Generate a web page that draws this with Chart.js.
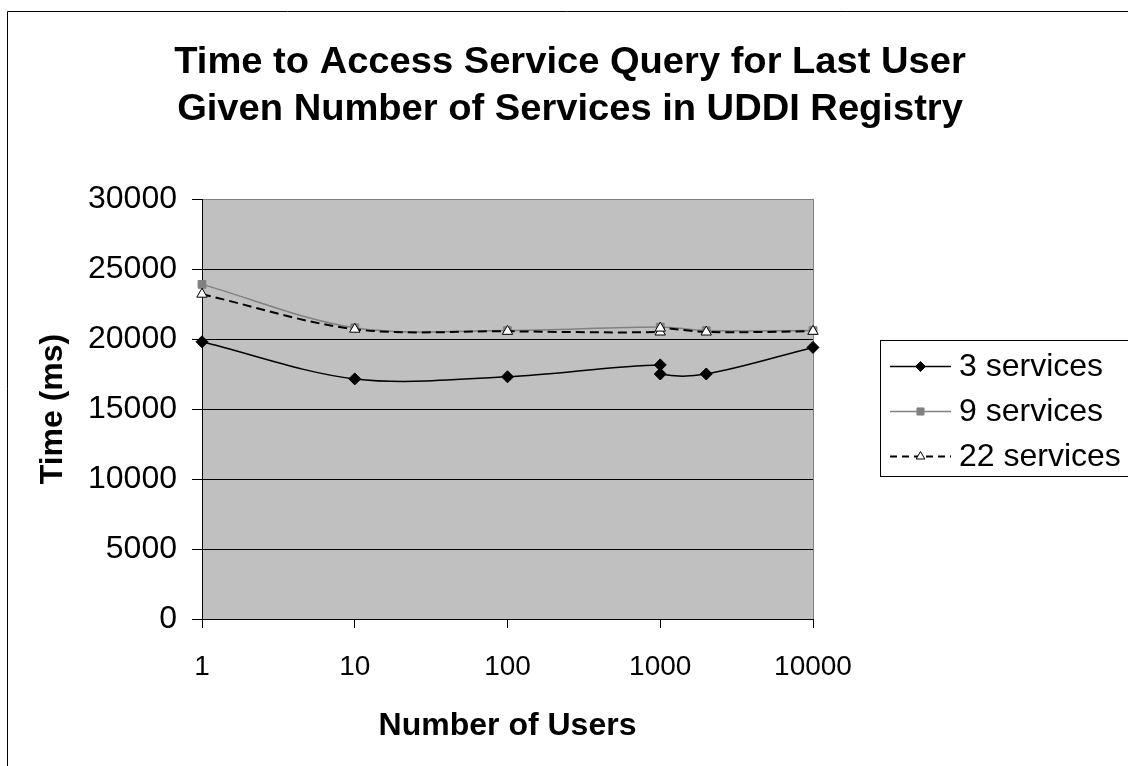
<!DOCTYPE html>
<html>
<head>
<meta charset="utf-8">
<script src="https://cdn.jsdelivr.net/npm/chart.js@4"></script>
<style>
  html, body { margin: 0; padding: 0; background: #fff; }
  #wrap { width: 1128px; height: 766px; }
</style>
</head>
<body>
<div id="wrap"><canvas id="c" width="1128" height="766"></canvas></div>
<script>
// Measured query times (ms) by number of concurrent users
const users3 = [1, 10, 100, 1000, 1000, 2000, 10000];
const time3  = [19800, 17150, 17300, 18150, 17500, 17500, 19400];

const users9 = [1, 10, 100, 1000, 2000, 10000];
const time9  = [23900, 20800, 20600, 20850, 20600, 20600];

const users22 = [1, 10, 100, 1000, 1000, 2000, 10000];
const time22  = [23200, 20700, 20550, 20500, 20780, 20500, 20550];

const seriesNames = ['3 services', '9 services', '22 services'];
const xTicks = [1, 10, 100, 1000, 10000];
const yMin = 0, yMax = 30000, yStep = 5000;

const titleLines = ['Time to Access Service Query for Last User',
                    'Given Number of Services in UDDI Registry'];
const xTitle = 'Number of Users';
const yTitle = 'Time (ms)';

const pts = (xs, ys) => xs.map((x, i) => ({ x: x, y: ys[i] }));

const styles = [
  { color: '#000000', pointStyle: 'rectRot', pointRadius: 6, fill: '#000000', dash: [], width: 1.5 },
  { color: '#808080', pointStyle: 'rect', pointRadius: 5.5, fill: '#808080', dash: [], width: 1.5 },
  { color: '#000000', pointStyle: 'triangle', pointRadius: 6, fill: '#ffffff', dash: [9, 5], width: 2 }
];

const seriesData = [pts(users3, time3), pts(users9, time9), pts(users22, time22)];

const datasets = seriesData.map((d, i) => ({
  label: seriesNames[i],
  data: d,
  borderColor: styles[i].color,
  borderWidth: styles[i].width,
  borderDash: styles[i].dash,
  pointStyle: styles[i].pointStyle,
  pointRadius: styles[i].pointRadius,
  pointBackgroundColor: styles[i].fill,
  pointBorderColor: styles[i].color,
  pointBorderWidth: 1,
  tension: 0.33,
  fill: false,
  clip: false,
  order: 2 - i
}));

// Frame, plot background, titles and legend box
const decor = {
  id: 'decor',
  beforeDraw(chart) {
    const ctx = chart.ctx, a = chart.chartArea;
    ctx.save();
    ctx.fillStyle = '#ffffff';
    ctx.fillRect(0, 0, chart.width, chart.height);
    ctx.strokeStyle = '#000';
    ctx.lineWidth = 1;
    ctx.beginPath();
    ctx.moveTo(7.5, chart.height);
    ctx.lineTo(7.5, 11.5);
    ctx.lineTo(chart.width, 11.5);
    ctx.stroke();
    ctx.fillStyle = '#c0c0c0';
    ctx.fillRect(a.left, a.top, a.right - a.left, a.bottom - a.top);
    ctx.strokeStyle = '#808080';
    ctx.strokeRect(a.left + 0.5, a.top + 0.5, a.right - a.left, a.bottom - a.top);
    ctx.restore();
  },
  afterDraw(chart) {
    const ctx = chart.ctx, a = chart.chartArea;
    ctx.save();
    ctx.fillStyle = '#000';
    ctx.textAlign = 'center';
    ctx.textBaseline = 'alphabetic';
    // chart title
    ctx.font = 'bold 37px "Liberation Sans", Arial, sans-serif';
    const baselines = [73, 120];
    titleLines.forEach((t, i) => {
      ctx.save();
      ctx.translate(570, baselines[i]);
      ctx.scale(1.03, 1);
      ctx.fillText(t, 0, 0);
      ctx.restore();
    });
    // axis titles
    ctx.font = 'bold 32px "Liberation Sans", Arial, sans-serif';
    ctx.textBaseline = 'middle';
    ctx.fillText(xTitle, (a.left + a.right) / 2, 726);
    ctx.save();
    ctx.translate(53, (a.top + a.bottom) / 2);
    ctx.rotate(-Math.PI / 2);
    ctx.fillText(yTitle, 0, 0);
    ctx.restore();

    // legend
    ctx.strokeStyle = '#000';
    ctx.lineWidth = 1;
    ctx.strokeRect(880.5, 340.5, 300, 136);
    const rows = [366.5, 411.5, 456.5];
    ctx.font = '32px "Liberation Sans", Arial, sans-serif';
    ctx.textAlign = 'left';
    chart.data.datasets.forEach((ds, i) => {
      const y = rows[i];
      ctx.save();
      ctx.strokeStyle = ds.borderColor;
      ctx.lineWidth = ds.borderWidth;
      ctx.setLineDash(ds.borderDash.length ? [7, 5] : []);
      ctx.beginPath();
      ctx.moveTo(890, y);
      ctx.lineTo(951, y);
      ctx.stroke();
      ctx.setLineDash([]);
      ctx.fillStyle = ds.pointBackgroundColor;
      ctx.strokeStyle = ds.pointBorderColor;
      ctx.lineWidth = 1;
      Chart.helpers.drawPoint(ctx, { pointStyle: ds.pointStyle, radius: 5, rotation: 0, borderWidth: 1 }, 920.5, y);
      ctx.restore();
      ctx.fillStyle = '#000';
      ctx.fillText(ds.label, 959, y + 1);
    });
    ctx.restore();
  }
};

new Chart(document.getElementById('c'), {
  type: 'line',
  data: { datasets: datasets },
  options: {
    responsive: false,
    animation: false,
    devicePixelRatio: 1,
    layout: { padding: { left: 0, top: 199, right: 315, bottom: 0 } },
    plugins: { legend: { display: false }, title: { display: false }, tooltip: { enabled: false } },
    scales: {
      x: {
        type: 'logarithmic',
        min: xTicks[0],
        max: xTicks[xTicks.length - 1],
        afterBuildTicks: s => { s.ticks = xTicks.map(v => ({ value: v })); },
        afterFit: s => { s.height = 147; },
        border: { display: true, color: '#000', width: 1 },
        grid: { drawOnChartArea: false, drawTicks: true, tickLength: 9, tickColor: '#000' },
        ticks: {
          color: '#000',
          padding: 22,
          maxRotation: 0,
          autoSkip: false,
          font: { family: '"Liberation Sans", Arial, sans-serif', size: 28 },
          callback: v => String(v)
        }
      },
      y: {
        type: 'linear',
        min: yMin,
        max: yMax,
        afterFit: s => { s.width = 202; },
        border: { display: true, color: '#000', width: 1 },
        grid: {
          color: c => (c.tick && c.tick.value === yMax) ? '#808080' : '#000',
          tickColor: '#000',
          tickLength: 10,
          lineWidth: 1
        },
        ticks: {
          stepSize: yStep,
          color: '#000',
          padding: 15,
          font: { family: '"Liberation Sans", Arial, sans-serif', size: 32 },
          callback: v => String(v)
        }
      }
    }
  },
  plugins: [decor]
});
</script>
</body>
</html>
